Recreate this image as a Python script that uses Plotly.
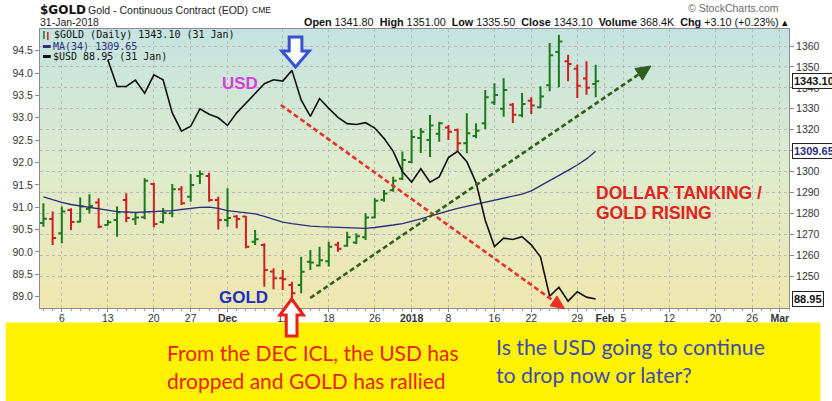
import plotly.graph_objects as go

# ---------------- data ----------------
trade_dates = [
    "2017-11-02", "2017-11-03", "2017-11-06", "2017-11-07", "2017-11-08", "2017-11-09", "2017-11-10",
    "2017-11-13", "2017-11-14", "2017-11-15", "2017-11-16", "2017-11-17", "2017-11-20", "2017-11-21",
    "2017-11-22", "2017-11-24", "2017-11-27", "2017-11-28", "2017-11-29", "2017-11-30",
    "2017-12-01", "2017-12-04", "2017-12-05", "2017-12-06", "2017-12-07", "2017-12-08", "2017-12-11",
    "2017-12-12", "2017-12-13", "2017-12-14", "2017-12-15", "2017-12-18", "2017-12-19", "2017-12-20",
    "2017-12-21", "2017-12-22", "2017-12-26", "2017-12-27", "2017-12-28", "2017-12-29",
    "2018-01-02", "2018-01-03", "2018-01-04", "2018-01-05", "2018-01-08", "2018-01-09", "2018-01-10",
    "2018-01-11", "2018-01-12", "2018-01-16", "2018-01-17", "2018-01-18", "2018-01-19", "2018-01-22",
    "2018-01-23", "2018-01-24", "2018-01-25", "2018-01-26", "2018-01-29", "2018-01-30", "2018-01-31",
]
future_dates = [
    "2018-02-01", "2018-02-02", "2018-02-05", "2018-02-06", "2018-02-07", "2018-02-08", "2018-02-09",
    "2018-02-12", "2018-02-13", "2018-02-14", "2018-02-15", "2018-02-16", "2018-02-20", "2018-02-21",
    "2018-02-22", "2018-02-23", "2018-02-26", "2018-02-27", "2018-02-28", "2018-03-01", "2018-03-02",
]

gold_open = [1275.4, 1277.3, 1270.4, 1281.6, 1276.0, 1282.1, 1285.1, 1274.4, 1276.8, 1286.4,
             1277.1, 1278.1, 1294.0, 1275.8, 1280.0, 1291.5, 1287.9, 1297.8, 1297.8, 1286.4,
             1276.8, 1278.4, 1278.4, 1266.4, 1264.8, 1252.1, 1248.9, 1245.7, 1245.7, 1256.8,
             1255.0, 1257.0, 1265.0, 1264.5, 1266.0, 1268.5, 1278.0, 1286.5, 1291.0, 1296.5,
             1304.5, 1316.0, 1315.0, 1318.0, 1321.0, 1319.8, 1313.5, 1317.0, 1323.0, 1333.0,
             1330.0, 1331.9, 1326.9, 1333.8, 1330.7, 1341.2, 1357.1, 1352.7, 1349.1, 1344.4, 1341.8]
gold_high = [1284.8, 1280.8, 1283.2, 1282.4, 1287.6, 1289.1, 1287.2, 1276.8, 1283.2, 1289.6,
             1280.1, 1296.7, 1294.6, 1282.5, 1294.0, 1293.1, 1298.8, 1300.4, 1299.4, 1287.9,
             1292.0, 1279.2, 1278.7, 1272.0, 1265.7, 1253.7, 1252.9, 1247.3, 1259.2, 1262.4,
             1264.0, 1266.4, 1266.4, 1271.2, 1270.4, 1280.0, 1287.2, 1291.1, 1297.5, 1309.5,
             1319.8, 1320.8, 1327.0, 1323.8, 1322.2, 1320.6, 1327.8, 1323.0, 1339.0, 1342.2,
             1344.6, 1332.7, 1337.5, 1335.5, 1340.7, 1361.4, 1365.4, 1355.8, 1351.1, 1352.7, 1351.0]
gold_low = [1273.6, 1264.8, 1265.7, 1272.0, 1275.7, 1280.0, 1272.8, 1274.1, 1268.8, 1275.7,
            1274.4, 1277.1, 1273.3, 1275.1, 1278.1, 1284.0, 1285.5, 1294.0, 1285.5, 1272.3,
            1273.6, 1272.8, 1263.3, 1264.8, 1244.9, 1243.7, 1243.3, 1239.3, 1241.7, 1252.9,
            1254.5, 1254.5, 1261.6, 1264.0, 1265.3, 1267.2, 1277.6, 1285.5, 1290.3, 1295.9,
            1303.9, 1308.8, 1306.9, 1314.2, 1315.0, 1309.5, 1308.7, 1315.9, 1320.3, 1331.8,
            1326.2, 1323.2, 1325.9, 1327.5, 1330.4, 1338.3, 1340.3, 1343.1, 1335.1, 1336.7, 1335.5]
gold_close = [1277.4, 1268.2, 1280.8, 1275.8, 1283.2, 1283.5, 1273.6, 1275.7, 1280.6, 1277.7,
              1278.0, 1295.6, 1274.9, 1280.1, 1291.5, 1284.8, 1293.5, 1298.8, 1286.4, 1276.8,
              1277.7, 1277.3, 1264.0, 1267.6, 1252.9, 1248.9, 1248.4, 1241.7, 1252.0, 1256.5,
              1257.5, 1264.0, 1263.0, 1268.5, 1269.0, 1278.0, 1286.0, 1289.5, 1295.5, 1305.5,
              1316.5, 1319.0, 1322.0, 1323.0, 1319.0, 1313.5, 1318.3, 1319.5, 1335.5, 1336.6,
              1339.0, 1327.1, 1332.3, 1331.6, 1335.9, 1355.6, 1362.2, 1351.4, 1341.0, 1340.0, 1343.1]
gold_ma34 = [1287.8, 1286.4, 1285.2, 1284.2, 1283.5, 1282.8, 1282.1, 1281.3, 1280.8, 1280.6,
             1280.4, 1280.6, 1280.8, 1281.0, 1281.3, 1281.8, 1282.3, 1282.8, 1282.9, 1282.3,
             1281.3, 1280.8, 1280.1, 1279.7, 1278.5, 1277.3, 1275.8, 1275.0, 1274.4, 1273.9,
             1273.6, 1273.4, 1273.1, 1273.0, 1272.8, 1272.8, 1273.2, 1273.7, 1274.4, 1275.1,
             1276.1, 1277.3, 1278.7, 1280.1, 1281.2, 1282.3, 1283.3, 1284.4, 1285.4, 1286.4,
             1287.3, 1288.3, 1289.2, 1290.7, 1293.1, 1295.4, 1297.8, 1300.5, 1303.1, 1306.0, 1309.65]
usd_close = [None, None, None, None, None, None, None,
             94.30, 93.70, 93.70, 93.84, 93.55, 93.96, 93.85, 93.11, 92.70, 92.81, 93.20, 93.08, 93.00,
             92.83, 93.11, 93.33, 93.55, 93.76, 93.85, 93.82, 94.06, 93.40, 93.03,
             93.43, 93.21, 93.01, 92.87, 92.85, 92.89, 92.77, 92.54, 92.25, 91.80,
             91.56, 91.86, 91.56, 91.68, 92.11, 92.25, 92.02, 91.55, 90.71, 90.12,
             90.31, 90.28, 90.34, 90.16, 89.89, 89.01, 89.21, 88.90, 89.11, 88.99, 88.95]

tick_dates = ["2017-11-06", "2017-11-13", "2017-11-20", "2017-11-27", "2017-12-01", "2017-12-11",
              "2017-12-18", "2017-12-26", "2018-01-02", "2018-01-08", "2018-01-16", "2018-01-22",
              "2018-01-29", "2018-02-01", "2018-02-05", "2018-02-12", "2018-02-20", "2018-02-26",
              "2018-03-01"]
tick_labels = ["6", "13", "20", "27", "<b>Dec</b>", "11", "18", "26", "<b>2018</b>", "8", "16", "22",
               "29", "<b>Feb</b>", "5", "12", "20", "26", "<b>Mar</b>"]
usd_ticks = [89.0, 89.5, 90.0, 90.5, 91.0, 91.5, 92.0, 92.5, 93.0, 93.5, 94.0, 94.5]
gold_ticks = [1250, 1260, 1270, 1280, 1290, 1300, 1310, 1320, 1330, 1340, 1350, 1360]

# ---------------- geometry helpers ----------------
W, H = 832, 401
ML, MR, MT, MB = 35, 32, 29, 93
PW = W - ML - MR
PH = H - MT - MB


def px(x):
    return (x - ML) / PW


def py(y):
    return (H - MB - y) / PH


def path_of(points):
    s = "M " + " L ".join(f"{px(a):.5f},{py(b):.5f}" for a, b in points) + " Z"
    return s


all_days = trade_dates + future_dates
pos = {d: i for i, d in enumerate(all_days)}
xs = [pos[d] for d in trade_dates]
tick_pos = [pos[d] for d in tick_dates]

GREEN = "#1c7a1c"
RED = "#cf1f1f"

up_i, dn_i = [], []
for i in range(len(trade_dates)):
    ref = gold_close[i - 1] if i > 0 else gold_open[i]
    (up_i if gold_close[i] >= ref else dn_i).append(i)

fig = go.Figure()
for idxs, col in ((up_i, GREEN), (dn_i, RED)):
    fig.add_trace(go.Ohlc(
        x=[xs[i] for i in idxs], open=[gold_open[i] for i in idxs], high=[gold_high[i] for i in idxs],
        low=[gold_low[i] for i in idxs], close=[gold_close[i] for i in idxs],
        increasing=dict(line=dict(color=col, width=2)), decreasing=dict(line=dict(color=col, width=2)),
        tickwidth=0.38, yaxis="y", showlegend=False, hoverinfo="skip"))

fig.add_trace(go.Scatter(x=xs, y=gold_ma34, mode="lines", line=dict(color="#2a2d7c", width=1.3),
                         yaxis="y", showlegend=False, hoverinfo="skip"))
fig.add_trace(go.Scatter(x=xs, y=usd_close, mode="lines", line=dict(color="#111111", width=1.6),
                         yaxis="y2", showlegend=False, hoverinfo="skip", connectgaps=False))

shapes = []
# gradient background of the plot area
stops = [(0.0, (240, 231, 174)), (0.5, (222, 235, 204)), (1.0, (196, 227, 224))]


def interp(t):
    for (t0, c0), (t1, c1) in zip(stops[:-1], stops[1:]):
        if t0 <= t <= t1:
            f = (t - t0) / (t1 - t0)
            return "rgb(%d,%d,%d)" % tuple(round(a + (b - a) * f) for a, b in zip(c0, c1))
    return "rgb(%d,%d,%d)" % stops[-1][1]


N = 60
for k in range(N):
    shapes.append(dict(type="rect", xref="x domain", yref="y domain", x0=0, x1=1,
                       y0=k / N, y1=(k + 1) / N + 0.003, fillcolor=interp((k + 0.5) / N),
                       line=dict(width=0), layer="below"))

# yellow band
shapes.append(dict(type="rect", xref="paper", yref="paper", x0=px(0), x1=px(W), y0=py(H), y1=py(322.5),
                   fillcolor="#FFF200", line=dict(width=0), layer="above"))


def dashed_arrow(p0, p1, color, head=14, half=6):
    dx, dy = p1[0] - p0[0], p1[1] - p0[1]
    L = (dx * dx + dy * dy) ** 0.5
    ux, uy = dx / L, dy / L
    bx, by = p1[0] - ux * head, p1[1] - uy * head
    shapes.append(dict(type="line", xref="paper", yref="paper", x0=px(p0[0]), y0=py(p0[1]),
                       x1=px(bx), y1=py(by), line=dict(color=color, width=2.6, dash="5px,3px"),
                       layer="above"))
    pts = [p1, (bx - uy * half, by + ux * half), (bx + uy * half, by - ux * half)]
    shapes.append(dict(type="path", xref="paper", yref="paper", path=path_of(pts),
                       fillcolor=color, line=dict(color=color, width=1), layer="above"))


dashed_arrow((281, 105), (571, 309), "#e8312a")
dashed_arrow((311, 298), (659, 66), "#2f5f1c", head=15, half=7)

# blue hollow down arrow
cx = 296
blue_pts = [(cx - 6.5, 37), (cx + 6.5, 37), (cx + 6.5, 51), (cx + 14, 51), (cx, 67), (cx - 14, 51), (cx - 6.5, 51)]
shapes.append(dict(type="path", xref="paper", yref="paper", path=path_of(blue_pts),
                   fillcolor="rgba(255,255,255,0.85)", line=dict(color="#3a4fd6", width=3), layer="above"))
# red hollow up arrow
cx = 292
red_pts = [(cx, 299), (cx + 12, 315), (cx + 5.5, 315), (cx + 5.5, 336), (cx - 5.5, 336), (cx - 5.5, 315), (cx - 12, 315)]
shapes.append(dict(type="path", xref="paper", yref="paper", path=path_of(red_pts),
                   fillcolor="white", line=dict(color="#e5221b", width=3), layer="above"))

# legend markers
shapes += [
    dict(type="line", xref="paper", yref="paper", x0=px(39), x1=px(39), y0=py(31), y1=py(39),
         line=dict(color=GREEN, width=1.5), layer="above"),
    dict(type="line", xref="paper", yref="paper", x0=px(43), x1=px(43), y0=py(32), y1=py(40),
         line=dict(color=RED, width=1.5), layer="above"),
    dict(type="line", xref="paper", yref="paper", x0=px(38), x1=px(46), y0=py(46.5), y1=py(46.5),
         line=dict(color="#2a2d7c", width=3), layer="above"),
    dict(type="line", xref="paper", yref="paper", x0=px(38), x1=px(46), y0=py(56.5), y1=py(56.5),
         line=dict(color="#111111", width=3), layer="above"),
]

SANS = "Liberation Sans, Arial, sans-serif"
MONO = "DejaVu Sans Mono, monospace"
ann = []


def text(x, y, s, size, color="#222", family=SANS, xanchor="left", yanchor="middle", **kw):
    ann.append(dict(x=px(x), y=py(y), xref="paper", yref="paper", text=s, showarrow=False,
                    xanchor=xanchor, yanchor=yanchor, font=dict(size=size, color=color, family=family), **kw))


# header
text(33, 10, "<b>$GOLD</b>", 12, "#111", family="DejaVu Sans, sans-serif")
text(82, 10, "Gold - Continuous Contract (EOD)", 10.5, "#222")
text(249, 10.5, "CME", 8.5, "#222")
text(33, 22.5, "31-Jan-2018", 10.5, "#222")
text(792, 8, "© StockCharts.com", 10.5, "#6a6a6a", xanchor="right")
text(801, 22.5, "<b>Open</b> 1341.80  <b>High</b> 1351.00  <b>Low</b> 1335.50  <b>Close</b> 1343.10  "
     "<b>Volume</b> 368.4K  <b>Chg</b> +3.10 (+0.23%) ▴", 10.8, "#111", xanchor="right")
# legend text
text(47, 35, "$GOLD (Daily) 1343.10 (31 Jan)", 10, "#111", family=MONO)
text(46, 46.5, "MA(34) 1309.65", 10, "#2a2d7c", family=MONO)
text(46, 56.5, "$USD 88.95 (31 Jan)", 10, "#111", family=MONO)
# chart notes
text(239, 83, "<b>USD</b>", 17, "#d83ed8", xanchor="center")
text(243, 297, "<b>GOLD</b>", 17, "#1b2fc4", xanchor="center")
text(601, 193, "<b>DOLLAR TANKING /</b>", 17.5, "#e02222")
text(601, 213, "<b>GOLD RISING</b>", 17.5, "#e02222")
# yellow band text
text(163, 352, "From the DEC ICL, the USD has", 21, "#e8231e", family="Lato, sans-serif")
text(163, 380, "dropped and GOLD has rallied", 21, "#e8231e", family="Lato, sans-serif")
text(499, 347, "Is the USD going to continue", 21.3, "#3d4cb0", family="Lato, sans-serif")
text(499, 375, "to drop now or later?", 21.3, "#3d4cb0", family="Lato, sans-serif")

# last value markers on the right axis
for val, yref, s, col in ((gold_close[-1], "y", "%.2f" % gold_close[-1], "#111"),
                          (gold_ma34[-1], "y", "%.2f" % gold_ma34[-1], "#2a2d7c"),
                          (usd_close[-1], "y2", "%.2f" % usd_close[-1], "#111")):
    ann.append(dict(x=px(803), xref="paper", y=val, yref=yref, text="<b>%s</b>" % s, showarrow=False,
                    xanchor="left", yanchor="middle", bgcolor="white", bordercolor="#222", borderwidth=1,
                    borderpad=1, font=dict(size=11, color=col, family=SANS)))

fig.update_layout(
    width=W, height=H,
    margin=dict(l=ML, r=MR, t=MT, b=MB, pad=0),
    paper_bgcolor="white", plot_bgcolor="rgb(222,235,204)",
    showlegend=False, hovermode=False,
    shapes=shapes, annotations=ann,
    xaxis=dict(range=[-0.37, 81.0], tickmode="array", tickvals=tick_pos, ticktext=tick_labels,
               rangeslider=dict(visible=False),
               showgrid=True, gridcolor="#b9b9b9", griddash="dot", gridwidth=1,
               showline=True, linecolor="#8c8c8c", mirror=True, ticks="outside", ticklen=3,
               ticklabelstandoff=-3,
               tickcolor="#8c8c8c", tickfont=dict(size=10.5, color="#333", family=SANS),
               minor=dict(dtick=1, tick0=0, ticks="outside", ticklen=2, tickcolor="#9a9a9a", showgrid=False),
               zeroline=False, fixedrange=True),
    yaxis=dict(range=[1234.70, 1368.13], side="right", tickmode="array", tickvals=gold_ticks,
               ticktext=[str(v) for v in gold_ticks], showgrid=True, gridcolor="#b9b9b9", griddash="dot",
               gridwidth=1, showline=True, linecolor="#8c8c8c", mirror=True, ticks="outside", ticklen=4,
               tickcolor="#8c8c8c", tickfont=dict(size=10.5, color="#333", family=SANS), zeroline=False),
    yaxis2=dict(range=[88.747, 94.985], side="left", overlaying="y", tickmode="array", tickvals=usd_ticks,
                ticktext=["%.1f" % v for v in usd_ticks], showgrid=False, showline=False, ticks="outside",
                ticklen=4, tickcolor="#8c8c8c", tickfont=dict(size=10.5, color="#333", family=SANS),
                zeroline=False),
)

fig.write_html("out.html", config={"displayModeBar": False},
               post_script="document.body.style.margin='0';document.body.style.padding='0';")
